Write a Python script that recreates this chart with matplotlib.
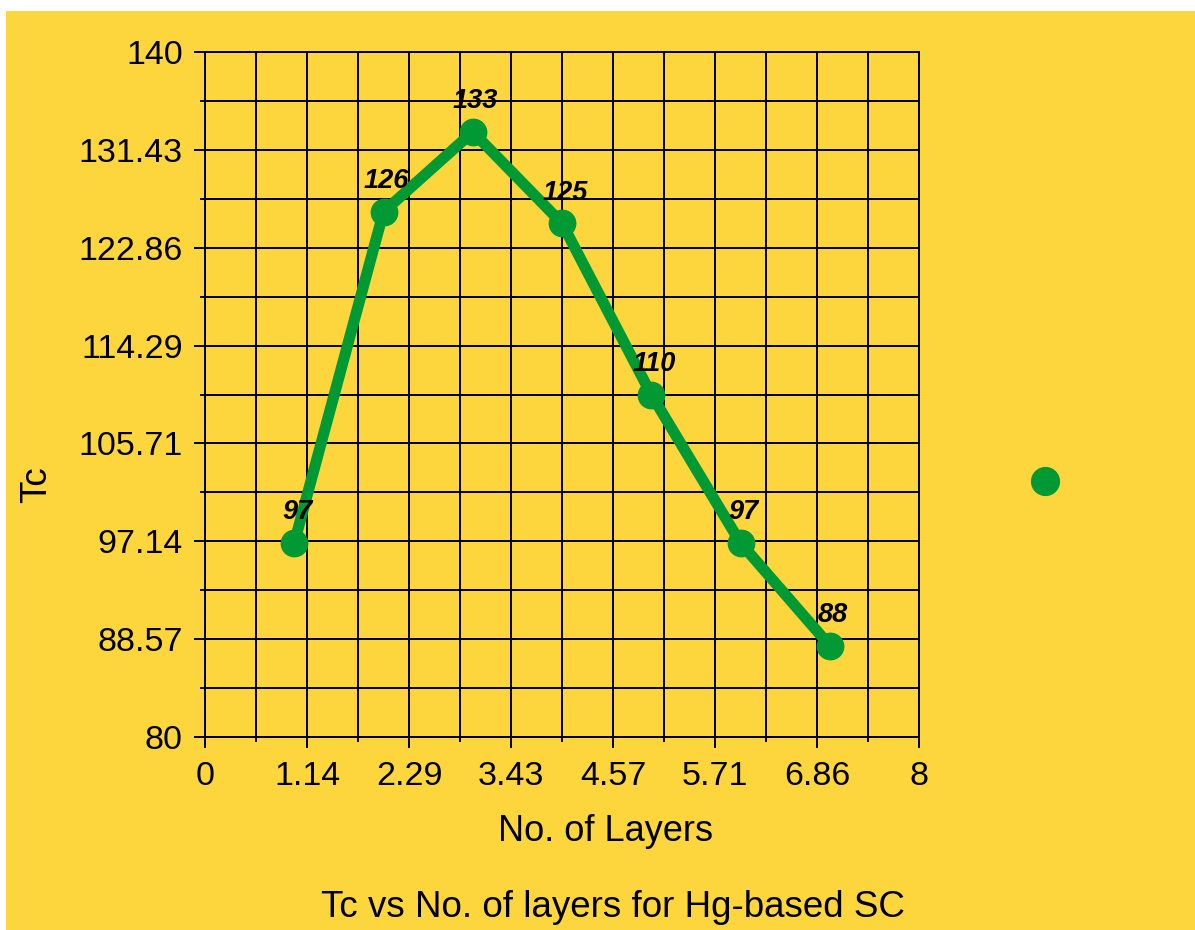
import numpy as np
import matplotlib
matplotlib.use("Agg")
import matplotlib.pyplot as plt
from matplotlib.lines import Line2D
from matplotlib.patches import Rectangle
from matplotlib.ticker import FixedLocator, FuncFormatter

plt.rcParams['font.family'] = ['Liberation Sans', 'DejaVu Sans']

# datos
layers = [1, 2, 3, 4, 5, 6, 7]
tc = [97, 126, 133, 125, 110, 97, 88]
value_labels = ["97", "126", "133", "125", "110", "97", "88"]

yellow = '#FDD63E'
green = '#009933'

fig = plt.figure(figsize=(11.95, 9.3), dpi=100)
fig.patch.set_facecolor('white')
# fondo amarillo con un borde blanco arriba y a la izquierda
fig.patches.append(Rectangle((6 / 1195, 0), 1, 1 - 11 / 930, transform=fig.transFigure,
                             facecolor=yellow, edgecolor='none', zorder=-10))

ax = fig.add_axes([205 / 1195, 1 - 737 / 930, 714 / 1195, 685 / 930])
ax.set_facecolor(yellow)
ax.set_xlim(0, 8)
ax.set_ylim(80, 140)

xmajor = np.linspace(0, 8, 8)
ymajor = np.linspace(80, 140, 8)
xminor = (xmajor[:-1] + xmajor[1:]) / 2
yminor = (ymajor[:-1] + ymajor[1:]) / 2
ax.xaxis.set_major_locator(FixedLocator(xmajor))
ax.yaxis.set_major_locator(FixedLocator(ymajor))
ax.xaxis.set_minor_locator(FixedLocator(xminor))
ax.yaxis.set_minor_locator(FixedLocator(yminor))

fmt = FuncFormatter(lambda v, p: f"{v:.2f}".rstrip('0').rstrip('.'))
ax.xaxis.set_major_formatter(fmt)
ax.yaxis.set_major_formatter(fmt)

ax.grid(True, which='both', color='black', linewidth=1.4)
ax.set_axisbelow(True)
for s in ax.spines.values():
    s.set_color('black')
    s.set_linewidth(1.4)

ax.tick_params(which='major', length=8, width=1.4, labelsize=24.5, color='black')
ax.tick_params(which='minor', length=3.5, width=1.4, color='black')
ax.tick_params(axis='y', which='major', pad=8)
ax.tick_params(axis='x', which='major', pad=9)

ax.plot(layers, tc, color=green, linewidth=8, marker='o', markersize=19,
        solid_capstyle='round', zorder=3, clip_on=False)

for x, y, lab in zip(layers, tc, value_labels):
    ax.annotate(lab, (x, y), xytext=(2, 17), textcoords='offset points',
                ha='center', va='baseline', fontsize=19.5, fontweight='bold',
                fontstyle='italic', zorder=4)

ax.set_xlabel("No. of Layers", fontsize=26)
ax.xaxis.set_label_coords((606 - 205) / 714, (737 - 814) / 685)

fig.text(37 / 1195, 1 - 485 / 930, "Tc", rotation=90, fontsize=26.5,
         ha='center', va='center')
fig.text(613 / 1195, 1 - 907 / 930, "Tc vs No. of layers for Hg-based SC",
         fontsize=26.5, ha='center', va='center')

handle = Line2D([], [], color=green, marker='o', markersize=20, linestyle='none')
fig.legend([handle], [''], loc='center', bbox_to_anchor=(1045 / 1195, 1 - 482 / 930),
           frameon=False, handlelength=1, handletextpad=0, borderpad=0)

fig.savefig('out.png', dpi=100, facecolor=fig.get_facecolor())
